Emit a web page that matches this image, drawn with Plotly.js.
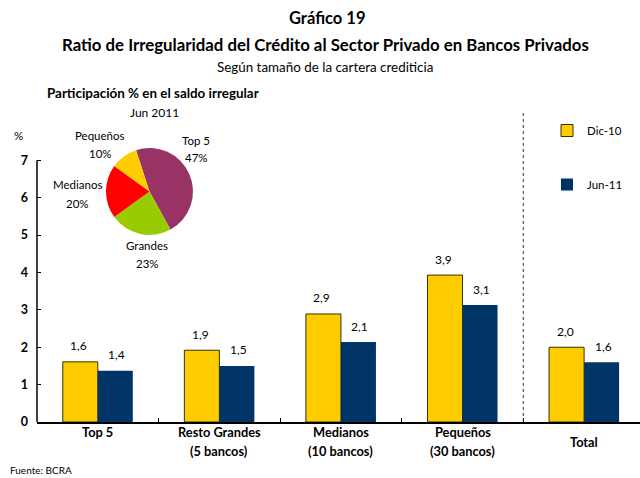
<!DOCTYPE html>
<html><head><meta charset="utf-8">
<script src="https://cdn.plot.ly/plotly-3.0.1.min.js"></script>
<style>html,body{margin:0;padding:0;background:#fff}#chart{width:640px;height:478px}</style>
</head><body><div id="chart"></div>
<script>
// ---- data ----
const categories = ["Top 5", "Resto Grandes", "Medianos", "Pequeños", "Total"];
const categorySub = ["", "(5 bancos)", "(10 bancos)", "(30 bancos)", ""];
const dic10 = [1.61, 1.92, 2.89, 3.93, 2.0];
const jun11 = [1.37, 1.5, 2.14, 3.13, 1.6];
const dic10Labels = ["1,6", "1,9", "2,9", "3,9", "2,0"];
const jun11Labels = ["1,4", "1,5", "2,1", "3,1", "1,6"];
const seriesNames = ["Dic-10", "Jun-11"];
const yTicks = [0, 1, 2, 3, 4, 5, 6, 7];
const pieLabels = ["Top 5", "Grandes", "Medianos", "Pequeños"];
const pieValues = [47, 23, 20, 10];
const pieColors = ["#993366", "#99CC00", "#FF0000", "#FFCC00"];

const FONT = "Lato, 'Open Sans', sans-serif";
const L = 37, T = 108, W = 603, H = 314;
const px = x => (x - L) / W;
const py = y => (422 - y) / H;

const traces = [
  {type: "bar", name: seriesNames[0], x: categories, y: dic10, legendgroup: "a",
   marker: {color: "#FFCC00", line: {color: "#333300", width: 1}}, hoverinfo: "none"},
  {type: "bar", name: seriesNames[1], x: categories, y: jun11, legendgroup: "b",
   marker: {color: "#003366", line: {color: "#003366", width: 0}}, hoverinfo: "none"},
  {type: "pie", labels: pieLabels, values: pieValues, sort: false, direction: "clockwise",
   rotation: -18, marker: {colors: pieColors, line: {width: 0}}, textinfo: "none",
   showlegend: false, hoverinfo: "none",
   domain: {x: [px(106), px(193)], y: [py(235), py(148)]}}
];

const annotations = [];
const txt = (text, x, y, size, bold, extra) => Object.assign({
  text: bold ? "<b>" + text + "</b>" : text, xref: "paper", yref: "paper",
  x: x, y: y, xanchor: "center", yanchor: "middle", showarrow: false,
  font: {family: FONT, size: size, color: "#000"}}, extra || {});

const CAT_SIZE = 12.8;
categories.forEach((c, i) => {
  annotations.push({text: dic10Labels[i], x: c, y: dic10[i], xref: "x", yref: "y",
    xshift: -19, yshift: 16, showarrow: false, yanchor: "middle",
    font: {family: FONT, size: 12, color: "#000"}});
  annotations.push({text: jun11Labels[i], x: c, y: jun11[i], xref: "x", yref: "y",
    xshift: 19, yshift: 16, showarrow: false, yanchor: "middle",
    font: {family: FONT, size: 12, color: "#000"}});
  const single = !categorySub[i];
  const isLast = i === categories.length - 1;
  annotations.push({text: "<b>" + c + "</b>", x: c, y: 0, xref: "x", yref: "y",
    yshift: (single && isLast) ? -20 : -10,
    showarrow: false, yanchor: "middle", font: {family: FONT, size: CAT_SIZE, color: "#000"}});
  if (!single) {
    annotations.push({text: "<b>" + categorySub[i] + "</b>", x: c, y: 0, xref: "x", yref: "y", yshift: -29,
      showarrow: false, yanchor: "middle", font: {family: FONT, size: CAT_SIZE, color: "#000"}});
  }
});

// pie labels
const pieLabelPos = [[196, 140, 157], [147, 245, 263], [77, 184, 203], [100, 135, 153]];
pieLabels.forEach((l, i) => {
  const p = pieLabelPos[i];
  annotations.push(txt(l, px(p[0]), py(p[1]), 11.5, false));
  annotations.push(txt(pieValues[i] + "%", px(p[0]), py(p[2]), 11.5, false));
});

// titles and notes
annotations.push(txt("Gráfico 19", px(327), py(18), 16.5, true));
annotations.push(txt("Ratio de Irregularidad del Crédito al Sector Privado en Bancos Privados", px(325), py(45), 16.8, true));
annotations.push(txt("Según tamaño de la cartera crediticia", px(325), py(67), 13.4, false));
annotations.push(txt("Participación % en el saldo irregular", px(153), py(93), 13.4, true));
annotations.push(txt("Jun 2011", px(154), py(112), 12, false));
annotations.push(txt("%", px(18), py(135), 11.5, false));
annotations.push(txt("Fuente: BCRA", px(8), py(470), 10, false, {xanchor: "left"}));

const layout = {
  width: 640, height: 478,
  margin: {l: L, r: 0, t: T, b: 478 - T - H, pad: 0},
  paper_bgcolor: "#fff", plot_bgcolor: "#fff",
  font: {family: FONT, color: "#000"},
  barmode: "group", bargap: 0.424, bargroupgap: 0,
  showlegend: true,
  legend: {x: px(547), y: py(116), xanchor: "left", yanchor: "top", bgcolor: "rgba(0,0,0,0)",
    font: {family: FONT, size: 11.5, color: "#000"}, tracegroupgap: 35, traceorder: "grouped"},
  xaxis: {type: "category", range: [-0.5, 4.46], showgrid: false, zeroline: false,
    showline: true, linecolor: "#000", linewidth: 1.5, ticks: "inside", tickson: "boundaries",
    ticklen: 4, tickcolor: "#000", tickwidth: 1, showticklabels: false, fixedrange: true},
  yaxis: {range: [0, 8.4], tickvals: yTicks, ticktext: yTicks.map(v => "<b>" + v + "</b>"),
    showgrid: false, zeroline: false, showline: false, ticks: "inside", ticklen: 4,
    tickcolor: "#000", tickwidth: 1, ticklabelstandoff: 8,
    tickfont: {family: FONT, size: 12.5, color: "#000"}, fixedrange: true},
  shapes: [
    {type: "line", xref: "paper", yref: "y", x0: 0, x1: 0, y0: 0, y1: 7, line: {color: "#000", width: 1.5}},
    {type: "line", xref: "x", yref: "y", x0: 3.5, x1: 3.5, y0: 0, y1: 8.35, line: {color: "#333", width: 1, dash: "dot"}}
  ],
  annotations: annotations
};

Plotly.newPlot("chart", traces, layout, {displayModeBar: false, staticPlot: true});
</script></body></html>
